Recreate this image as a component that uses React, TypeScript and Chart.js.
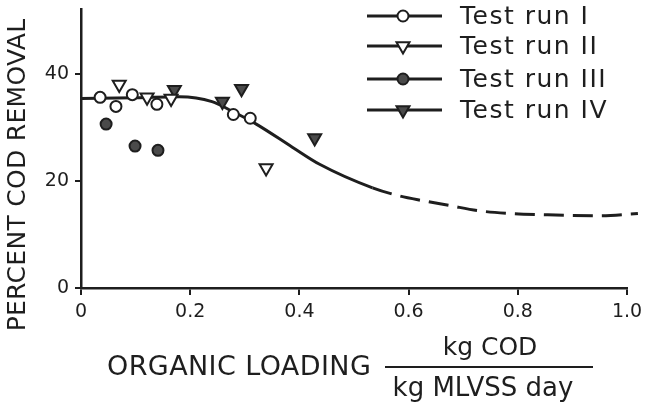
import { useEffect, useRef } from 'react';
import { Chart, registerables } from 'chart.js';
Chart.register(...registerables);

const seriesLabels = ['Test run I', 'Test run II', 'Test run III', 'Test run IV'];
const run1X = [0.035, 0.064, 0.094, 0.139, 0.279, 0.31];
const run1Y = [35.6, 33.9, 36.1, 34.3, 32.4, 31.7];
const run2X = [0.07, 0.121, 0.165, 0.339, 1.03];
const run2Y = [38.0, 35.6, 35.4, 22.4, 14.4];
const run3X = [0.046, 0.099, 0.141];
const run3Y = [30.6, 26.5, 25.7];
const run4X = [0.171, 0.259, 0.294, 0.428];
const run4Y = [37.0, 34.8, 37.2, 28.0];
const fitX = [0, 0.1, 0.18, 0.24, 0.277, 0.321, 0.387, 0.437, 0.534, 0.583, 0.626, 0.675, 0.73, 0.79, 0.846, 0.95, 1.02];
const fitY = [35.4, 35.5, 35.7, 34.8, 33.0, 30.6, 26.3, 23.1, 18.7, 17.2, 16.3, 15.4, 14.4, 13.9, 13.7, 13.5, 13.9];
const dashFrom = 0.534;
const xTicks = [0, 0.2, 0.4, 0.6, 0.8, 1.0];
const yTicks = [0, 20, 40];
const yTitle = 'PERCENT COD REMOVAL';
const xTitle = 'ORGANIC LOADING';
const unitTop = 'kg COD';
const unitBottom = 'kg MLVSS day';

const INK = '#1e1e1e';
const FILL = '#4a4a4a';
const FONT = 'DejaVu Sans';

const pts = (xs: number[], ys: number[]) => xs.map((x, i) => ({ x, y: ys[i] }));

type Mk = { shape: 'circle' | 'tri'; filled: boolean };
const markers: Mk[] = [
  { shape: 'circle', filled: false },
  { shape: 'tri', filled: false },
  { shape: 'circle', filled: true },
  { shape: 'tri', filled: true },
];

function drawMarker(ctx: CanvasRenderingContext2D, m: Mk, x: number, y: number) {
  ctx.save();
  ctx.lineWidth = 2;
  ctx.strokeStyle = INK;
  ctx.fillStyle = m.filled ? FILL : '#ffffff';
  ctx.beginPath();
  if (m.shape === 'circle') {
    ctx.arc(x, y, 5.5, 0, Math.PI * 2);
  } else {
    const r = 7.5;
    ctx.moveTo(x, y + r);
    ctx.lineTo(x - r * 0.866, y - r * 0.5);
    ctx.lineTo(x + r * 0.866, y - r * 0.5);
    ctx.closePath();
  }
  ctx.fill();
  ctx.stroke();
  ctx.restore();
}

const setSpacing = (ctx: any, v: string) => {
  if ('letterSpacing' in ctx) ctx.letterSpacing = v;
};

const overlay = {
  id: 'overlay',
  afterDraw(chart: any) {
    const ctx: CanvasRenderingContext2D = chart.ctx;
    ctx.save();
    ctx.fillStyle = INK;
    ctx.strokeStyle = INK;
    // y title
    ctx.save();
    ctx.translate(18, 175);
    ctx.rotate(-Math.PI / 2);
    ctx.font = `25px "${FONT}"`;
    setSpacing(ctx, '0.3px');
    ctx.textAlign = 'center';
    ctx.textBaseline = 'middle';
    ctx.fillText(yTitle, 0, 0);
    ctx.restore();
    // x title
    ctx.font = `27px "${FONT}"`;
    setSpacing(ctx, '0.4px');
    ctx.textAlign = 'left';
    ctx.textBaseline = 'middle';
    ctx.fillText(xTitle, 107, 368);
    setSpacing(ctx, '0px');
    ctx.font = `25px "${FONT}"`;
    ctx.textAlign = 'center';
    ctx.fillText(unitTop, 490, 348);
    ctx.font = `26px "${FONT}"`;
    ctx.fillText(unitBottom, 483, 389);
    ctx.lineWidth = 2;
    ctx.beginPath();
    ctx.moveTo(385, 367);
    ctx.lineTo(593, 367);
    ctx.stroke();
    // legend
    const rows = [16, 46, 79, 110];
    ctx.font = `25px "${FONT}"`;
    setSpacing(ctx, '1.5px');
    ctx.textAlign = 'left';
    rows.forEach((ry, i) => {
      ctx.lineWidth = 3;
      ctx.beginPath();
      ctx.moveTo(367, ry);
      ctx.lineTo(442, ry);
      ctx.stroke();
      drawMarker(ctx, markers[i], 403, ry);
      ctx.fillText(seriesLabels[i], 460, ry + 1);
    });
    ctx.restore();
  },
};

export default function App() {
  const ref = useRef<HTMLCanvasElement | null>(null);
  useEffect(() => {
    if (!ref.current) return;
    const mkDs = (i: number, data: any[]) => {
      const m = markers[i];
      return {
        type: 'scatter' as const,
        label: seriesLabels[i],
        data,
        pointStyle: m.shape === 'circle' ? 'circle' : 'triangle',
        rotation: m.shape === 'tri' ? 180 : 0,
        pointRadius: m.shape === 'circle' ? 5.5 : 7.5,
        pointBorderWidth: 2,
        pointBorderColor: INK,
        pointBackgroundColor: m.filled ? FILL : '#ffffff',
        borderColor: INK,
        backgroundColor: m.filled ? FILL : '#ffffff',
        showLine: false,
        clip: false as any,
      };
    };
    const chart = new Chart(ref.current, {
      type: 'scatter',
      data: {
        datasets: [
          mkDs(0, pts(run1X, run1Y)),
          mkDs(1, pts(run2X, run2Y)),
          mkDs(2, pts(run3X, run3Y)),
          mkDs(3, pts(run4X, run4Y)),
          {
            type: 'line' as const,
            label: 'fit',
            data: pts(fitX, fitY),
            borderColor: INK,
            borderWidth: 3,
            pointRadius: 0,
            showLine: true,
            fill: false,
            cubicInterpolationMode: 'monotone',
            clip: false as any,
            segment: {
              borderDash: (c: any) => (c.p0.parsed.x >= dashFrom - 1e-6 ? [20, 9] : undefined),
            },
          } as any,
        ],
      },
      options: {
        responsive: false,
        animation: false,
        layout: { padding: { left: 0, top: 7, right: 20, bottom: 0 } },
        plugins: { legend: { display: false }, tooltip: { enabled: false } },
        scales: {
          x: {
            type: 'linear',
            min: 0,
            max: 1.0,
            afterBuildTicks: (s: any) => {
              s.ticks = xTicks.map((v) => ({ value: v }));
            },
            afterFit: (s: any) => {
              s.height = 405 - 288;
              s.paddingLeft = 0;
              s.paddingRight = 0;
            },
            border: { display: true, color: INK, width: 2.5 },
            grid: { display: true, drawOnChartArea: false, drawTicks: true, tickLength: 7, color: INK, lineWidth: 2 },
            ticks: {
              color: INK,
              font: { family: FONT, size: 19 },
              padding: 6,
              maxRotation: 0,
              callback: (v: any) => (Number(v) === 0 ? '0' : Number(v).toFixed(1)),
            },
          },
          y: {
            type: 'linear',
            min: 0,
            max: 52,
            afterBuildTicks: (s: any) => {
              s.ticks = yTicks.map((v) => ({ value: v }));
            },
            afterFit: (s: any) => {
              s.width = 81;
              s.paddingTop = 0;
              s.paddingBottom = 0;
            },
            border: { display: true, color: INK, width: 2.5 },
            grid: { display: true, drawOnChartArea: false, drawTicks: true, tickLength: 6, color: INK, lineWidth: 2 },
            ticks: {
              color: INK,
              font: { family: FONT, size: 19 },
              padding: 6,
              callback: (v: any) => String(v),
            },
          },
        },
      },
      plugins: [overlay],
    });
    return () => chart.destroy();
  }, []);
  return (
    <div style={{ position: 'absolute', left: 0, top: 0, width: 647, height: 405, background: '#fff' }}>
      <canvas ref={ref} width={647} height={405} style={{ display: 'block' }} />
    </div>
  );
}
